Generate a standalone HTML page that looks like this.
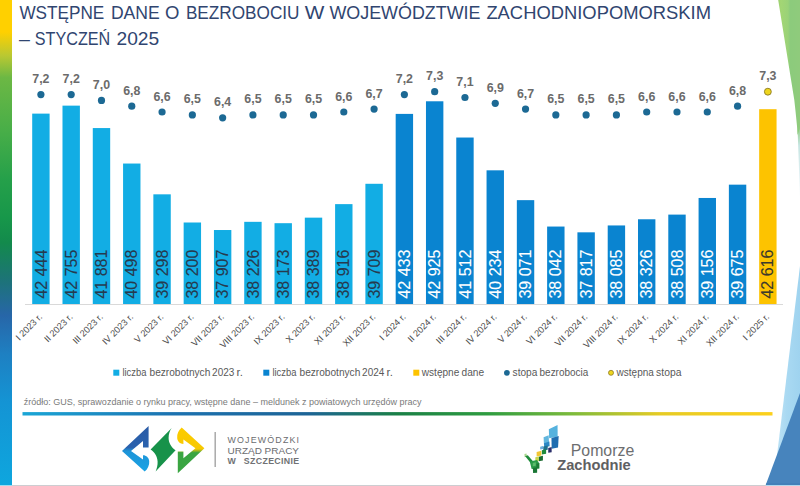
<!DOCTYPE html>
<html lang="pl"><head><meta charset="utf-8"><title>Wstępne dane o bezrobociu w województwie zachodniopomorskim – styczeń 2025</title>
<style>html,body{margin:0;padding:0;background:#fff;width:800px;height:486px;overflow:hidden;position:relative}</style>
</head><body>
<svg width="800" height="486" viewBox="0 0 800 486" style="position:absolute;left:0;top:0">
<defs>
<linearGradient id="lbar" x1="0" y1="0" x2="0" y2="1">
 <stop offset="0" stop-color="#ffd000"/>
 <stop offset="0.066" stop-color="#ffd000"/>
 <stop offset="0.115" stop-color="#b9c832"/>
 <stop offset="0.16" stop-color="#6cb844"/>
 <stop offset="0.27" stop-color="#48ae48"/>
 <stop offset="0.37" stop-color="#25a04a"/>
 <stop offset="0.45" stop-color="#17974a"/>
 <stop offset="0.5" stop-color="#138a4c"/>
 <stop offset="0.575" stop-color="#1c7476"/>
 <stop offset="0.65" stop-color="#2766a8"/>
 <stop offset="0.73" stop-color="#1e80c2"/>
 <stop offset="0.83" stop-color="#1494d4"/>
 <stop offset="1" stop-color="#0ea6de"/>
</linearGradient>
<linearGradient id="hline" x1="0" y1="0" x2="1" y2="0">
 <stop offset="0" stop-color="#1aa6d6"/>
 <stop offset="0.2" stop-color="#1c72b0"/>
 <stop offset="0.38" stop-color="#1d6496"/>
 <stop offset="0.5" stop-color="#1a8046"/>
 <stop offset="0.62" stop-color="#2e9c40"/>
 <stop offset="0.73" stop-color="#7aba3c"/>
 <stop offset="0.85" stop-color="#e6cb24"/>
 <stop offset="1" stop-color="#fcd01c"/>
</linearGradient>
<linearGradient id="gtri" x1="0" y1="0" x2="1" y2="0">
 <stop offset="0" stop-color="#9ccf70"/>
 <stop offset="0.12" stop-color="#a3d674"/>
 <stop offset="0.45" stop-color="#9ad278"/>
 <stop offset="0.55" stop-color="#8ccb7c"/>
 <stop offset="1" stop-color="#8fcb7c"/>
</linearGradient>
<linearGradient id="gtail" x1="0" y1="0" x2="0" y2="1">
 <stop offset="0" stop-color="#8ccb7c"/>
 <stop offset="0.12" stop-color="#9fd39a"/>
 <stop offset="0.3" stop-color="#c6e5e2"/>
 <stop offset="0.7" stop-color="#e2f1f4"/>
 <stop offset="1" stop-color="#fafdfe"/>
</linearGradient>
<linearGradient id="btri" x1="0" y1="0" x2="1" y2="0">
 <stop offset="0" stop-color="#c4e5f6"/>
 <stop offset="0.5" stop-color="#a9d9f2"/>
 <stop offset="1" stop-color="#9fd3ef"/>
</linearGradient>
<linearGradient id="wupL" x1="0" y1="0" x2="0" y2="1">
 <stop offset="0" stop-color="#2a5ba6"/>
 <stop offset="0.47" stop-color="#2a62ae"/>
 <stop offset="0.55" stop-color="#1e94d8"/>
 <stop offset="1" stop-color="#1aa3e4"/>
</linearGradient>
<linearGradient id="wupR" x1="0" y1="0" x2="0" y2="1">
 <stop offset="0" stop-color="#3aa542"/>
 <stop offset="0.45" stop-color="#3aa542"/>
 <stop offset="0.53" stop-color="#f7c800"/>
 <stop offset="1" stop-color="#fccc00"/>
</linearGradient>
</defs>
<rect x="0" y="0" width="800" height="486" fill="#ffffff"/>
<rect x="0" y="0" width="12" height="485" fill="url(#lbar)"/>
<polygon points="797.3,122 800,122 800,200 798.7,160" fill="url(#gtail)"/>
<polygon points="778.2,0 800,0 800,128 797.5,135 797.2,128 795.6,112 794.3,100" fill="url(#gtri)"/>
<polygon points="800,266 800,485 773.4,485" fill="url(#btri)"/>
<polygon points="800,393 800,485 765.7,485" fill="#4784bd"/>
<rect x="766" y="483" width="34" height="2" fill="#3f7db6" opacity="0.6"/>
<rect x="12" y="485" width="754" height="1" fill="#cdcdd1"/>
<rect x="766" y="485" width="34" height="1" fill="#b2d8ee"/>
<rect x="0" y="485" width="12" height="1" fill="#9cdcf0"/>
<text x="19.40" y="19.2" font-family='"Liberation Sans", Arial, sans-serif' font-size="18.6" fill="#304570" textLength="84.90" lengthAdjust="spacingAndGlyphs">WSTĘPNE</text>
<text x="110.90" y="19.2" font-family='"Liberation Sans", Arial, sans-serif' font-size="18.6" fill="#304570" textLength="48.90" lengthAdjust="spacingAndGlyphs">DANE</text>
<text x="164.90" y="19.2" font-family='"Liberation Sans", Arial, sans-serif' font-size="18.6" fill="#304570" textLength="14.40" lengthAdjust="spacingAndGlyphs">O</text>
<text x="185.90" y="19.2" font-family='"Liberation Sans", Arial, sans-serif' font-size="18.6" fill="#304570" textLength="113.60" lengthAdjust="spacingAndGlyphs">BEZROBOCIU</text>
<text x="304.70" y="19.2" font-family='"Liberation Sans", Arial, sans-serif' font-size="18.6" fill="#304570" textLength="19.60" lengthAdjust="spacingAndGlyphs">W</text>
<text x="329.40" y="19.2" font-family='"Liberation Sans", Arial, sans-serif' font-size="18.6" fill="#304570" textLength="151.10" lengthAdjust="spacingAndGlyphs">WOJEWÓDZTWIE</text>
<text x="486.40" y="19.2" font-family='"Liberation Sans", Arial, sans-serif' font-size="18.6" fill="#304570" textLength="224.60" lengthAdjust="spacingAndGlyphs">ZACHODNIOPOMORSKIM</text>
<text x="19.10" y="45.2" font-family='"Liberation Sans", Arial, sans-serif' font-size="18.6" fill="#304570" textLength="10.90" lengthAdjust="spacingAndGlyphs">–</text>
<text x="34.80" y="45.2" font-family='"Liberation Sans", Arial, sans-serif' font-size="18.6" fill="#304570" textLength="75.40" lengthAdjust="spacingAndGlyphs">STYCZEŃ</text>
<text x="116.50" y="45.2" font-family='"Liberation Sans", Arial, sans-serif' font-size="18.6" fill="#304570" textLength="42.70" lengthAdjust="spacingAndGlyphs">2025</text>
<rect x="25" y="304.0" width="758" height="1" fill="#d9d9d9"/>
<rect x="32.20" y="113.62" width="17.4" height="190.38" fill="#12ade4"/>
<text transform="translate(46.50,298.6) rotate(-90)" font-family='"Liberation Sans", Arial, sans-serif' font-size="15.6" fill="#263a4e" stroke="#263a4e" stroke-width="0.12" textLength="49" lengthAdjust="spacingAndGlyphs">42 444</text>
<circle cx="40.90" cy="94.60" r="3.6" fill="#1c6994"/>
<text x="40.90" y="83.10" text-anchor="middle" font-family='"Liberation Sans", Arial, sans-serif' font-size="12.4" font-weight="bold" fill="#6b6b6b">7,2</text>
<text transform="translate(42.90,317.40) rotate(-45)" text-anchor="end" font-family='"Liberation Sans", Arial, sans-serif' font-size="9.2" fill="#4d4d4d">I 2023 r.</text>
<rect x="62.49" y="105.64" width="17.4" height="198.36" fill="#12ade4"/>
<text transform="translate(76.79,298.6) rotate(-90)" font-family='"Liberation Sans", Arial, sans-serif' font-size="15.6" fill="#263a4e" stroke="#263a4e" stroke-width="0.12" textLength="49" lengthAdjust="spacingAndGlyphs">42 755</text>
<circle cx="71.19" cy="94.60" r="3.6" fill="#1c6994"/>
<text x="71.19" y="83.10" text-anchor="middle" font-family='"Liberation Sans", Arial, sans-serif' font-size="12.4" font-weight="bold" fill="#6b6b6b">7,2</text>
<text transform="translate(73.19,317.40) rotate(-45)" text-anchor="end" font-family='"Liberation Sans", Arial, sans-serif' font-size="9.2" fill="#4d4d4d">II 2023 r.</text>
<rect x="92.78" y="128.06" width="17.4" height="175.94" fill="#12ade4"/>
<text transform="translate(107.08,298.6) rotate(-90)" font-family='"Liberation Sans", Arial, sans-serif' font-size="15.6" fill="#263a4e" stroke="#263a4e" stroke-width="0.12" textLength="49" lengthAdjust="spacingAndGlyphs">41 881</text>
<circle cx="101.48" cy="100.40" r="3.6" fill="#1c6994"/>
<text x="101.48" y="88.90" text-anchor="middle" font-family='"Liberation Sans", Arial, sans-serif' font-size="12.4" font-weight="bold" fill="#6b6b6b">7,0</text>
<text transform="translate(103.48,317.40) rotate(-45)" text-anchor="end" font-family='"Liberation Sans", Arial, sans-serif' font-size="9.2" fill="#4d4d4d">III 2023 r.</text>
<rect x="123.07" y="163.54" width="17.4" height="140.46" fill="#12ade4"/>
<text transform="translate(137.37,298.6) rotate(-90)" font-family='"Liberation Sans", Arial, sans-serif' font-size="15.6" fill="#263a4e" stroke="#263a4e" stroke-width="0.12" textLength="49" lengthAdjust="spacingAndGlyphs">40 498</text>
<circle cx="131.77" cy="106.20" r="3.6" fill="#1c6994"/>
<text x="131.77" y="94.70" text-anchor="middle" font-family='"Liberation Sans", Arial, sans-serif' font-size="12.4" font-weight="bold" fill="#6b6b6b">6,8</text>
<text transform="translate(133.77,317.40) rotate(-45)" text-anchor="end" font-family='"Liberation Sans", Arial, sans-serif' font-size="9.2" fill="#4d4d4d">IV 2023 r.</text>
<rect x="153.36" y="194.33" width="17.4" height="109.67" fill="#12ade4"/>
<text transform="translate(167.66,298.6) rotate(-90)" font-family='"Liberation Sans", Arial, sans-serif' font-size="15.6" fill="#263a4e" stroke="#263a4e" stroke-width="0.12" textLength="49" lengthAdjust="spacingAndGlyphs">39 298</text>
<circle cx="162.06" cy="112.00" r="3.6" fill="#1c6994"/>
<text x="162.06" y="100.50" text-anchor="middle" font-family='"Liberation Sans", Arial, sans-serif' font-size="12.4" font-weight="bold" fill="#6b6b6b">6,6</text>
<text transform="translate(164.06,317.40) rotate(-45)" text-anchor="end" font-family='"Liberation Sans", Arial, sans-serif' font-size="9.2" fill="#4d4d4d">V 2023 r.</text>
<rect x="183.65" y="222.50" width="17.4" height="81.50" fill="#12ade4"/>
<text transform="translate(197.95,298.6) rotate(-90)" font-family='"Liberation Sans", Arial, sans-serif' font-size="15.6" fill="#263a4e" stroke="#263a4e" stroke-width="0.12" textLength="49" lengthAdjust="spacingAndGlyphs">38 200</text>
<circle cx="192.35" cy="114.90" r="3.6" fill="#1c6994"/>
<text x="192.35" y="103.40" text-anchor="middle" font-family='"Liberation Sans", Arial, sans-serif' font-size="12.4" font-weight="bold" fill="#6b6b6b">6,5</text>
<text transform="translate(194.35,317.40) rotate(-45)" text-anchor="end" font-family='"Liberation Sans", Arial, sans-serif' font-size="9.2" fill="#4d4d4d">VI 2023 r.</text>
<rect x="213.94" y="230.02" width="17.4" height="73.98" fill="#12ade4"/>
<text transform="translate(228.24,298.6) rotate(-90)" font-family='"Liberation Sans", Arial, sans-serif' font-size="15.6" fill="#263a4e" stroke="#263a4e" stroke-width="0.12" textLength="49" lengthAdjust="spacingAndGlyphs">37 907</text>
<circle cx="222.64" cy="117.80" r="3.6" fill="#1c6994"/>
<text x="222.64" y="106.30" text-anchor="middle" font-family='"Liberation Sans", Arial, sans-serif' font-size="12.4" font-weight="bold" fill="#6b6b6b">6,4</text>
<text transform="translate(224.64,317.40) rotate(-45)" text-anchor="end" font-family='"Liberation Sans", Arial, sans-serif' font-size="9.2" fill="#4d4d4d">VII 2023 r.</text>
<rect x="244.23" y="221.83" width="17.4" height="82.17" fill="#12ade4"/>
<text transform="translate(258.53,298.6) rotate(-90)" font-family='"Liberation Sans", Arial, sans-serif' font-size="15.6" fill="#263a4e" stroke="#263a4e" stroke-width="0.12" textLength="49" lengthAdjust="spacingAndGlyphs">38 226</text>
<circle cx="252.93" cy="114.90" r="3.6" fill="#1c6994"/>
<text x="252.93" y="103.40" text-anchor="middle" font-family='"Liberation Sans", Arial, sans-serif' font-size="12.4" font-weight="bold" fill="#6b6b6b">6,5</text>
<text transform="translate(254.93,317.40) rotate(-45)" text-anchor="end" font-family='"Liberation Sans", Arial, sans-serif' font-size="9.2" fill="#4d4d4d">VIII 2023 r.</text>
<rect x="274.52" y="223.19" width="17.4" height="80.81" fill="#12ade4"/>
<text transform="translate(288.82,298.6) rotate(-90)" font-family='"Liberation Sans", Arial, sans-serif' font-size="15.6" fill="#263a4e" stroke="#263a4e" stroke-width="0.12" textLength="49" lengthAdjust="spacingAndGlyphs">38 173</text>
<circle cx="283.22" cy="114.90" r="3.6" fill="#1c6994"/>
<text x="283.22" y="103.40" text-anchor="middle" font-family='"Liberation Sans", Arial, sans-serif' font-size="12.4" font-weight="bold" fill="#6b6b6b">6,5</text>
<text transform="translate(285.22,317.40) rotate(-45)" text-anchor="end" font-family='"Liberation Sans", Arial, sans-serif' font-size="9.2" fill="#4d4d4d">IX 2023 r.</text>
<rect x="304.81" y="217.65" width="17.4" height="86.35" fill="#12ade4"/>
<text transform="translate(319.11,298.6) rotate(-90)" font-family='"Liberation Sans", Arial, sans-serif' font-size="15.6" fill="#263a4e" stroke="#263a4e" stroke-width="0.12" textLength="49" lengthAdjust="spacingAndGlyphs">38 389</text>
<circle cx="313.51" cy="114.90" r="3.6" fill="#1c6994"/>
<text x="313.51" y="103.40" text-anchor="middle" font-family='"Liberation Sans", Arial, sans-serif' font-size="12.4" font-weight="bold" fill="#6b6b6b">6,5</text>
<text transform="translate(315.51,317.40) rotate(-45)" text-anchor="end" font-family='"Liberation Sans", Arial, sans-serif' font-size="9.2" fill="#4d4d4d">X 2023 r.</text>
<rect x="335.10" y="204.13" width="17.4" height="99.87" fill="#12ade4"/>
<text transform="translate(349.40,298.6) rotate(-90)" font-family='"Liberation Sans", Arial, sans-serif' font-size="15.6" fill="#263a4e" stroke="#263a4e" stroke-width="0.12" textLength="49" lengthAdjust="spacingAndGlyphs">38 916</text>
<circle cx="343.80" cy="112.00" r="3.6" fill="#1c6994"/>
<text x="343.80" y="100.50" text-anchor="middle" font-family='"Liberation Sans", Arial, sans-serif' font-size="12.4" font-weight="bold" fill="#6b6b6b">6,6</text>
<text transform="translate(345.80,317.40) rotate(-45)" text-anchor="end" font-family='"Liberation Sans", Arial, sans-serif' font-size="9.2" fill="#4d4d4d">XI 2023 r.</text>
<rect x="365.39" y="183.79" width="17.4" height="120.21" fill="#12ade4"/>
<text transform="translate(379.69,298.6) rotate(-90)" font-family='"Liberation Sans", Arial, sans-serif' font-size="15.6" fill="#263a4e" stroke="#263a4e" stroke-width="0.12" textLength="49" lengthAdjust="spacingAndGlyphs">39 709</text>
<circle cx="374.09" cy="109.10" r="3.6" fill="#1c6994"/>
<text x="374.09" y="97.60" text-anchor="middle" font-family='"Liberation Sans", Arial, sans-serif' font-size="12.4" font-weight="bold" fill="#6b6b6b">6,7</text>
<text transform="translate(376.09,317.40) rotate(-45)" text-anchor="end" font-family='"Liberation Sans", Arial, sans-serif' font-size="9.2" fill="#4d4d4d">XII 2023 r.</text>
<rect x="395.68" y="113.90" width="17.4" height="190.10" fill="#0a84d0"/>
<text transform="translate(409.98,298.6) rotate(-90)" font-family='"Liberation Sans", Arial, sans-serif' font-size="15.6" fill="#ffffff" stroke="#ffffff" stroke-width="0.12" textLength="49" lengthAdjust="spacingAndGlyphs">42 433</text>
<circle cx="404.38" cy="94.60" r="3.6" fill="#1c6994"/>
<text x="404.38" y="83.10" text-anchor="middle" font-family='"Liberation Sans", Arial, sans-serif' font-size="12.4" font-weight="bold" fill="#6b6b6b">7,2</text>
<text transform="translate(406.38,317.40) rotate(-45)" text-anchor="end" font-family='"Liberation Sans", Arial, sans-serif' font-size="9.2" fill="#4d4d4d">I 2024 r.</text>
<rect x="425.97" y="101.28" width="17.4" height="202.72" fill="#0a84d0"/>
<text transform="translate(440.27,298.6) rotate(-90)" font-family='"Liberation Sans", Arial, sans-serif' font-size="15.6" fill="#ffffff" stroke="#ffffff" stroke-width="0.12" textLength="49" lengthAdjust="spacingAndGlyphs">42 925</text>
<circle cx="434.67" cy="91.70" r="3.6" fill="#1c6994"/>
<text x="434.67" y="80.20" text-anchor="middle" font-family='"Liberation Sans", Arial, sans-serif' font-size="12.4" font-weight="bold" fill="#6b6b6b">7,3</text>
<text transform="translate(436.67,317.40) rotate(-45)" text-anchor="end" font-family='"Liberation Sans", Arial, sans-serif' font-size="9.2" fill="#4d4d4d">II 2024 r.</text>
<rect x="456.26" y="137.53" width="17.4" height="166.47" fill="#0a84d0"/>
<text transform="translate(470.56,298.6) rotate(-90)" font-family='"Liberation Sans", Arial, sans-serif' font-size="15.6" fill="#ffffff" stroke="#ffffff" stroke-width="0.12" textLength="49" lengthAdjust="spacingAndGlyphs">41 512</text>
<circle cx="464.96" cy="97.50" r="3.6" fill="#1c6994"/>
<text x="464.96" y="86.00" text-anchor="middle" font-family='"Liberation Sans", Arial, sans-serif' font-size="12.4" font-weight="bold" fill="#6b6b6b">7,1</text>
<text transform="translate(466.96,317.40) rotate(-45)" text-anchor="end" font-family='"Liberation Sans", Arial, sans-serif' font-size="9.2" fill="#4d4d4d">III 2024 r.</text>
<rect x="486.55" y="170.32" width="17.4" height="133.68" fill="#0a84d0"/>
<text transform="translate(500.85,298.6) rotate(-90)" font-family='"Liberation Sans", Arial, sans-serif' font-size="15.6" fill="#ffffff" stroke="#ffffff" stroke-width="0.12" textLength="49" lengthAdjust="spacingAndGlyphs">40 234</text>
<circle cx="495.25" cy="103.30" r="3.6" fill="#1c6994"/>
<text x="495.25" y="91.80" text-anchor="middle" font-family='"Liberation Sans", Arial, sans-serif' font-size="12.4" font-weight="bold" fill="#6b6b6b">6,9</text>
<text transform="translate(497.25,317.40) rotate(-45)" text-anchor="end" font-family='"Liberation Sans", Arial, sans-serif' font-size="9.2" fill="#4d4d4d">IV 2024 r.</text>
<rect x="516.84" y="200.15" width="17.4" height="103.85" fill="#0a84d0"/>
<text transform="translate(531.14,298.6) rotate(-90)" font-family='"Liberation Sans", Arial, sans-serif' font-size="15.6" fill="#ffffff" stroke="#ffffff" stroke-width="0.12" textLength="49" lengthAdjust="spacingAndGlyphs">39 071</text>
<circle cx="525.54" cy="109.10" r="3.6" fill="#1c6994"/>
<text x="525.54" y="97.60" text-anchor="middle" font-family='"Liberation Sans", Arial, sans-serif' font-size="12.4" font-weight="bold" fill="#6b6b6b">6,7</text>
<text transform="translate(527.54,317.40) rotate(-45)" text-anchor="end" font-family='"Liberation Sans", Arial, sans-serif' font-size="9.2" fill="#4d4d4d">V 2024 r.</text>
<rect x="547.13" y="226.55" width="17.4" height="77.45" fill="#0a84d0"/>
<text transform="translate(561.43,298.6) rotate(-90)" font-family='"Liberation Sans", Arial, sans-serif' font-size="15.6" fill="#ffffff" stroke="#ffffff" stroke-width="0.12" textLength="49" lengthAdjust="spacingAndGlyphs">38 042</text>
<circle cx="555.83" cy="114.90" r="3.6" fill="#1c6994"/>
<text x="555.83" y="103.40" text-anchor="middle" font-family='"Liberation Sans", Arial, sans-serif' font-size="12.4" font-weight="bold" fill="#6b6b6b">6,5</text>
<text transform="translate(557.83,317.40) rotate(-45)" text-anchor="end" font-family='"Liberation Sans", Arial, sans-serif' font-size="9.2" fill="#4d4d4d">VI 2024 r.</text>
<rect x="577.42" y="232.33" width="17.4" height="71.67" fill="#0a84d0"/>
<text transform="translate(591.72,298.6) rotate(-90)" font-family='"Liberation Sans", Arial, sans-serif' font-size="15.6" fill="#ffffff" stroke="#ffffff" stroke-width="0.12" textLength="49" lengthAdjust="spacingAndGlyphs">37 817</text>
<circle cx="586.12" cy="114.90" r="3.6" fill="#1c6994"/>
<text x="586.12" y="103.40" text-anchor="middle" font-family='"Liberation Sans", Arial, sans-serif' font-size="12.4" font-weight="bold" fill="#6b6b6b">6,5</text>
<text transform="translate(588.12,317.40) rotate(-45)" text-anchor="end" font-family='"Liberation Sans", Arial, sans-serif' font-size="9.2" fill="#4d4d4d">VII 2024 r.</text>
<rect x="607.71" y="225.45" width="17.4" height="78.55" fill="#0a84d0"/>
<text transform="translate(622.01,298.6) rotate(-90)" font-family='"Liberation Sans", Arial, sans-serif' font-size="15.6" fill="#ffffff" stroke="#ffffff" stroke-width="0.12" textLength="49" lengthAdjust="spacingAndGlyphs">38 085</text>
<circle cx="616.41" cy="114.90" r="3.6" fill="#1c6994"/>
<text x="616.41" y="103.40" text-anchor="middle" font-family='"Liberation Sans", Arial, sans-serif' font-size="12.4" font-weight="bold" fill="#6b6b6b">6,5</text>
<text transform="translate(618.41,317.40) rotate(-45)" text-anchor="end" font-family='"Liberation Sans", Arial, sans-serif' font-size="9.2" fill="#4d4d4d">VIII 2024 r.</text>
<rect x="638.00" y="219.27" width="17.4" height="84.73" fill="#0a84d0"/>
<text transform="translate(652.30,298.6) rotate(-90)" font-family='"Liberation Sans", Arial, sans-serif' font-size="15.6" fill="#ffffff" stroke="#ffffff" stroke-width="0.12" textLength="49" lengthAdjust="spacingAndGlyphs">38 326</text>
<circle cx="646.70" cy="112.00" r="3.6" fill="#1c6994"/>
<text x="646.70" y="100.50" text-anchor="middle" font-family='"Liberation Sans", Arial, sans-serif' font-size="12.4" font-weight="bold" fill="#6b6b6b">6,6</text>
<text transform="translate(648.70,317.40) rotate(-45)" text-anchor="end" font-family='"Liberation Sans", Arial, sans-serif' font-size="9.2" fill="#4d4d4d">IX 2024 r.</text>
<rect x="668.29" y="214.60" width="17.4" height="89.40" fill="#0a84d0"/>
<text transform="translate(682.59,298.6) rotate(-90)" font-family='"Liberation Sans", Arial, sans-serif' font-size="15.6" fill="#ffffff" stroke="#ffffff" stroke-width="0.12" textLength="49" lengthAdjust="spacingAndGlyphs">38 508</text>
<circle cx="676.99" cy="112.00" r="3.6" fill="#1c6994"/>
<text x="676.99" y="100.50" text-anchor="middle" font-family='"Liberation Sans", Arial, sans-serif' font-size="12.4" font-weight="bold" fill="#6b6b6b">6,6</text>
<text transform="translate(678.99,317.40) rotate(-45)" text-anchor="end" font-family='"Liberation Sans", Arial, sans-serif' font-size="9.2" fill="#4d4d4d">X 2024 r.</text>
<rect x="698.58" y="197.97" width="17.4" height="106.03" fill="#0a84d0"/>
<text transform="translate(712.88,298.6) rotate(-90)" font-family='"Liberation Sans", Arial, sans-serif' font-size="15.6" fill="#ffffff" stroke="#ffffff" stroke-width="0.12" textLength="49" lengthAdjust="spacingAndGlyphs">39 156</text>
<circle cx="707.28" cy="112.00" r="3.6" fill="#1c6994"/>
<text x="707.28" y="100.50" text-anchor="middle" font-family='"Liberation Sans", Arial, sans-serif' font-size="12.4" font-weight="bold" fill="#6b6b6b">6,6</text>
<text transform="translate(709.28,317.40) rotate(-45)" text-anchor="end" font-family='"Liberation Sans", Arial, sans-serif' font-size="9.2" fill="#4d4d4d">XI 2024 r.</text>
<rect x="728.87" y="184.66" width="17.4" height="119.34" fill="#0a84d0"/>
<text transform="translate(743.17,298.6) rotate(-90)" font-family='"Liberation Sans", Arial, sans-serif' font-size="15.6" fill="#ffffff" stroke="#ffffff" stroke-width="0.12" textLength="49" lengthAdjust="spacingAndGlyphs">39 675</text>
<circle cx="737.57" cy="106.20" r="3.6" fill="#1c6994"/>
<text x="737.57" y="94.70" text-anchor="middle" font-family='"Liberation Sans", Arial, sans-serif' font-size="12.4" font-weight="bold" fill="#6b6b6b">6,8</text>
<text transform="translate(739.57,317.40) rotate(-45)" text-anchor="end" font-family='"Liberation Sans", Arial, sans-serif' font-size="9.2" fill="#4d4d4d">XII 2024 r.</text>
<rect x="759.16" y="109.20" width="17.4" height="194.80" fill="#fdc300"/>
<text transform="translate(773.46,298.6) rotate(-90)" font-family='"Liberation Sans", Arial, sans-serif' font-size="15.6" fill="#3b3a2c" stroke="#3b3a2c" stroke-width="0.12" textLength="49" lengthAdjust="spacingAndGlyphs">42 616</text>
<circle cx="767.86" cy="91.70" r="3.45" fill="#eed51e" stroke="#8c7a22" stroke-width="0.9"/>
<text x="767.86" y="80.20" text-anchor="middle" font-family='"Liberation Sans", Arial, sans-serif' font-size="12.4" font-weight="bold" fill="#6b6b6b">7,3</text>
<text transform="translate(769.86,317.40) rotate(-45)" text-anchor="end" font-family='"Liberation Sans", Arial, sans-serif' font-size="9.2" fill="#4d4d4d">I 2025 r.</text>
<rect x="113.3" y="369.7" width="6" height="6" fill="#12ade4"/>
<rect x="263.3" y="369.7" width="6" height="6" fill="#0a84d0"/>
<rect x="413.3" y="369.7" width="6" height="6" fill="#fdc300"/>
<circle cx="506.9" cy="372.8" r="2.9" fill="#1c6994"/>
<circle cx="611" cy="372.8" r="2.5" fill="#eed51e" stroke="#8c7a22" stroke-width="0.8"/>
<text x="122.40" y="375.5" font-family='"Liberation Sans", Arial, sans-serif' font-size="10" fill="#595959" textLength="24.00" lengthAdjust="spacingAndGlyphs">liczba</text>
<text x="149.50" y="375.5" font-family='"Liberation Sans", Arial, sans-serif' font-size="10" fill="#595959" textLength="60.80" lengthAdjust="spacingAndGlyphs">bezrobotnych</text>
<text x="212.10" y="375.5" font-family='"Liberation Sans", Arial, sans-serif' font-size="10" fill="#595959" textLength="22.20" lengthAdjust="spacingAndGlyphs">2023</text>
<text x="236.50" y="375.5" font-family='"Liberation Sans", Arial, sans-serif' font-size="10" fill="#595959" textLength="6.40" lengthAdjust="spacingAndGlyphs">r.</text>
<text x="272.40" y="375.5" font-family='"Liberation Sans", Arial, sans-serif' font-size="10" fill="#595959" textLength="24.00" lengthAdjust="spacingAndGlyphs">liczba</text>
<text x="299.50" y="375.5" font-family='"Liberation Sans", Arial, sans-serif' font-size="10" fill="#595959" textLength="60.80" lengthAdjust="spacingAndGlyphs">bezrobotnych</text>
<text x="362.10" y="375.5" font-family='"Liberation Sans", Arial, sans-serif' font-size="10" fill="#595959" textLength="22.20" lengthAdjust="spacingAndGlyphs">2024</text>
<text x="386.50" y="375.5" font-family='"Liberation Sans", Arial, sans-serif' font-size="10" fill="#595959" textLength="6.40" lengthAdjust="spacingAndGlyphs">r.</text>
<text x="421.80" y="375.5" font-family='"Liberation Sans", Arial, sans-serif' font-size="10" fill="#595959" textLength="37.50" lengthAdjust="spacingAndGlyphs">wstępne</text>
<text x="461.60" y="375.5" font-family='"Liberation Sans", Arial, sans-serif' font-size="10" fill="#595959" textLength="22.50" lengthAdjust="spacingAndGlyphs">dane</text>
<text x="512.60" y="375.5" font-family='"Liberation Sans", Arial, sans-serif' font-size="10" fill="#595959" textLength="24.80" lengthAdjust="spacingAndGlyphs">stopa</text>
<text x="539.60" y="375.5" font-family='"Liberation Sans", Arial, sans-serif' font-size="10" fill="#595959" textLength="48.60" lengthAdjust="spacingAndGlyphs">bezrobocia</text>
<text x="616.60" y="375.5" font-family='"Liberation Sans", Arial, sans-serif' font-size="10" fill="#595959" textLength="37.30" lengthAdjust="spacingAndGlyphs">wstępna</text>
<text x="656.10" y="375.5" font-family='"Liberation Sans", Arial, sans-serif' font-size="10" fill="#595959" textLength="25.30" lengthAdjust="spacingAndGlyphs">stopa</text>
<text x="23.8" y="405" font-family='"Liberation Sans", Arial, sans-serif' font-size="8.6" fill="#7a7a7a" textLength="397.8" lengthAdjust="spacingAndGlyphs">źródło: GUS, sprawozdanie o rynku pracy, wstępne dane – meldunek z powiatowych urzędów pracy</text>
<rect x="22.5" y="412.1" width="750" height="3.4" fill="url(#hline)"/>
<path d="M148.6,426 L122,451 L144.7,471.6 C147.8,469 149.6,465 149.2,461 C148.8,457.5 146,455.2 143,455.3 L143,459.6 L131,451 L143,441 L143,447.6 L148.6,447.6 Z" fill="url(#wupL)"/>
<path d="M148.6,426 L122,451 L144.7,471.6 C147.8,469 149.6,465 149.2,461 C148.8,457.5 146,455.2 143,455.3 L143,459.6 L131,451 L143,441 L143,447.6 L148.6,447.6 Z" fill="url(#wupR)" transform="rotate(180 163.2 449.6)"/>
<path d="M171.7,428 L150.6,449.6 C154.5,452 157.3,456.5 157.6,461.5 C157.8,465.5 156.8,468.5 155.6,471.4 L175.6,450.3 C171.5,447.5 168.6,443 168.6,438 C168.6,434 169.8,430.5 171.7,428 Z" fill="#17924a"/>
<rect x="214.6" y="432" width="1.1" height="35" fill="#8a8a8a"/>
<text x="227.5" y="442.8" font-family='"Liberation Sans", Arial, sans-serif' font-size="8.9" fill="#6b6c6f" textLength="71.5" lengthAdjust="spacing">WOJEWÓDZKI</text>
<text x="227.5" y="453.8" font-family='"Liberation Sans", Arial, sans-serif' font-size="9.8" fill="#6b6c6f" textLength="71.5" lengthAdjust="spacingAndGlyphs">URZĄD PRACY</text>
<text y="464.4" font-family='"Liberation Sans", Arial, sans-serif' font-size="8.8" font-weight="bold" fill="#707174"><tspan x="227.6">W</tspan><tspan x="243.8" textLength="55.4" lengthAdjust="spacing">SZCZECINIE</tspan></text>
<polygon points="548.82,429.24 557.55,424.88 557.67,436.56 549.17,438.33" fill="#55b2de"/>
<polygon points="551.46,438.00 558.66,436.11 558.07,447.44 551.70,448.85" fill="#1f6db0"/>
<polygon points="543.59,437.30 548.66,435.18 549.01,442.85 543.94,444.27" fill="#62b6de"/>
<polygon points="543.97,443.19 549.40,441.54 549.63,446.26 544.20,447.20" fill="#2a86c4"/>
<polygon points="540.18,446.63 543.02,445.92 543.02,448.99 540.18,449.46" fill="#6aaedc"/>
<polygon points="543.26,446.57 547.74,445.40 547.74,449.64 543.26,450.59" fill="#1d6f8f"/>
<polygon points="548.24,447.88 551.66,446.94 551.66,452.13 548.24,452.84" fill="#2b2f6b"/>
<polygon points="541.88,450.13 546.12,449.19 546.12,453.67 541.88,454.61" fill="#1f8a3c"/>
<polygon points="536.64,451.94 541.36,450.76 541.36,455.48 536.64,456.42" fill="#f2c633"/>
<polygon points="538.68,456.72 542.92,455.78 542.92,460.50 538.68,461.20" fill="#1c6b30"/>
<polygon points="535.33,457.14 538.87,456.43 538.87,460.68 535.33,461.15" fill="#c6d64c"/>
<polygon points="524.42,453.98 526.54,453.51 526.78,456.82 524.66,457.29" fill="#a6d68a"/>
<polygon points="525.18,456.16 527.77,455.22 532.97,461.35 531.08,463.48" fill="#1e8a3a"/>
<polygon points="529.73,461.56 537.04,459.91 539.40,463.45 539.40,468.40 531.62,468.88" fill="#2a9a48"/>
<polygon points="532.77,462.99 535.83,462.29 535.83,465.83 532.77,466.30" fill="#5cbb6c"/>
<polygon points="536.39,463.66 539.11,463.19 539.11,468.14 536.39,468.61" fill="#1d7a36"/>
<polygon points="532.87,467.83 537.12,467.36 537.12,472.79 533.10,473.02" fill="#1a7634"/>
<text x="570.8" y="455.7" font-family='"Liberation Sans", Arial, sans-serif' font-size="16" fill="#6d6e70" textLength="63.4" lengthAdjust="spacingAndGlyphs">Pomorze</text>
<text x="557.2" y="470.1" font-family='"Liberation Sans", Arial, sans-serif' font-size="15.4" font-weight="bold" fill="#5f6062" textLength="73.5" lengthAdjust="spacingAndGlyphs">Zachodnie</text>
</svg>
</body></html>
